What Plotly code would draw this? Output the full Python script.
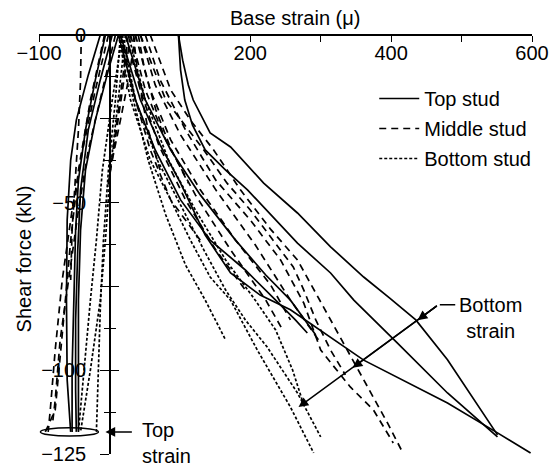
import plotly.graph_objects as go

FONT = "Liberation Sans, Arial, Helvetica, sans-serif"

# ---------------- data: base strain (micro-strain) vs shear force (kN) -------------
# Top stud (solid lines)
top1_x = [98, 104, 112, 119, 143, 172, 219, 267, 314, 361, 398, 435, 480, 527, 551]
top1_y = [0, -7.5, -14.9, -19.4, -29.2, -33.4, -44.2, -53.1, -63.2, -72.2, -78.5, -85, -96.9, -111.9, -119.3]
top2_x = [98, 101, 107, 118, 136, 165, 196, 229, 267, 314, 347, 409, 480, 551]
top2_y = [0, -10.4, -19.4, -26.9, -34.3, -40.3, -46.2, -53.7, -62.1, -71, -79.1, -91.9, -106.8, -119.9]
top3_x = [15.6, 44, 72, 101, 136, 172, 214, 257, 361, 480, 551, 598]
top3_y = [0, -19.4, -32.8, -44.2, -59.7, -71, -77.6, -82, -97, -109.8, -118.7, -124.7]
top4_x = [12.8, 37, 65, 101, 143, 193, 236, 264, 281]
top4_y = [0, -19.4, -34.3, -49.2, -61.2, -70.1, -79.1, -85, -88.9]
top5_x = [22.7, 51, 87, 129, 179, 222, 257, 293]
top5_y = [0, -19.4, -34.3, -47.7, -61.2, -71.6, -79.1, -89.5]
top6_x = [-5.7, -20, -34, -44, -48, -51, -53, -53]
top6_y = [0, -13.4, -28.3, -43.3, -58.2, -79.1, -99.9, -118.4]
top7_x = [4, -13, -30, -41, -45, -48, -48, -47]
top7_y = [0, -13.4, -28.3, -46.2, -64.1, -85, -105.9, -118.4]
top8_x = [-13, -30, -47, -55, -60, -61, -60, -55]
top8_y = [0, -11.9, -25.4, -37.3, -55.2, -79.1, -102.9, -118.4]
top9_x = [12.8, -1.4, -20, -34, -41, -44, -44, -44]
top9_y = [0, -10.4, -25.4, -40.3, -58.2, -79.1, -102.9, -118.4]

# Middle stud (dashed lines)
mid1_x = [58, 87, 115, 148, 186, 229, 267, 302, 332, 366, 395, 416]
mid1_y = [0, -16.4, -25.4, -34.3, -46.2, -58, -67.1, -80.5, -91.9, -105, -115.8, -124.4]
mid2_x = [51, 72, 108, 151, 200, 243, 276, 300, 342, 375, 403]
mid2_y = [0, -13.4, -28.3, -43.3, -55.2, -67.1, -80, -94, -105, -111.9, -121.7]
mid3_x = [44, 65, 101, 151, 207, 257, 297]
mid3_y = [0, -14.9, -29.8, -46.2, -62.6, -79.1, -91]
mid4_x = [37, 58, 87, 129, 179, 229, 257]
mid4_y = [0, -16.4, -31.3, -46.2, -61.2, -74.6, -85]
mid5_x = [30, 51, 80, 122, 172, 222, 246]
mid5_y = [0, -16.4, -31.3, -47.7, -64.1, -79.1, -88]
mid6_x = [22.7, 44, 70, 108, 151, 193]
mid6_y = [0, -16.4, -32.8, -49.2, -64.1, -76.1]
mid7_x = [15.6, 37, 58, 87, 129]
mid7_y = [0, -19.4, -34.3, -49.2, -61.2]
mid8_x = [44, 80, 134, 167, 200, 233, 261, 276, 293, 314, 335]
mid8_y = [0, -19.4, -34.3, -44.2, -52.2, -61.2, -69.2, -76.1, -85, -94, -101.4]
mid9_x = [27, 18.5, 8.5, 1.4]
mid9_y = [0, -13.4, -28.3, -40.3]
mid10_x = [37, 27, 15.6, 4]
mid10_y = [0, -13.4, -25.4, -37.3]
mid11_x = [34, 41, 55, 72]
mid11_y = [0, -13.4, -28.3, -40.3]
mid12_x = [-1.4, -20, -38, -53, -67, -77, -84, -87]
mid12_y = [0, -16.4, -34.3, -52.2, -73.1, -94, -111.9, -118.4]
mid13_x = [8.5, -10, -30, -44, -58, -70, -77, -81]
mid13_y = [0, -16.4, -34.3, -52.2, -73.1, -91, -108.9, -116.3]
mid14_x = [-40, -41, -44, -48, -53, -55]
mid14_y = [0, -13.4, -28.3, -43.3, -58.2, -73.1]
mid15_x = [-7, -27, -44, -55, -62.5, -70, -77, -91]
mid15_y = [0, -19.4, -40.3, -61.2, -79.1, -97, -111.9, -118.4]
mid16_x = [30, 23, 15, 6, -3]
mid16_y = [0, -10.4, -22.4, -34.3, -46.2]
mid17_x = [41, 50, 66, 88, 112]
mid17_y = [0, -10.4, -22.4, -34.3, -44.2]

# Bottom stud (dotted lines)
bot1_x = [12.8, 30, 58, 87, 115, 143, 172, 210, 257, 290]
bot1_y = [0, -19.4, -37.3, -49.2, -61.2, -72.2, -79.1, -94, -111, -124.7]
bot2_x = [18.5, 37, 68, 101, 134, 165, 193, 224, 267, 300]
bot2_y = [0, -19.4, -37.3, -50.7, -64.1, -76.1, -85, -93.1, -106.8, -119.9]
bot3_x = [27, 51, 84, 122, 165, 207, 236, 260, 276]
bot3_y = [0, -19.4, -37.3, -52.2, -67.1, -79.1, -88, -99.9, -110.4]
bot4_x = [15.6, 34, 55, 80, 108, 136, 165]
bot4_y = [0, -19.4, -37.3, -53.7, -68.6, -79.1, -91]
bot5_x = [15.6, 8.5, -1.4, -8.5, -13, -15.6, -18.5]
bot5_y = [0, -19.4, -40.3, -61.2, -82, -102.9, -118.4]
bot6_x = [22.7, 12.8, 1.4, -5.7, -13, -27, -41]
bot6_y = [0, -19.4, -40.3, -61.2, -79.1, -99.9, -118.4]
bot7_x = [18.5, 4, -10, -18.5, -27, -35.5, -44]
bot7_y = [0, -19.4, -40.3, -61.2, -79.1, -99.9, -118.4]

top_stud = [(top1_x, top1_y), (top2_x, top2_y), (top3_x, top3_y), (top4_x, top4_y),
            (top5_x, top5_y), (top6_x, top6_y), (top7_x, top7_y), (top8_x, top8_y),
            (top9_x, top9_y)]
mid_stud = [(mid1_x, mid1_y), (mid2_x, mid2_y), (mid3_x, mid3_y), (mid4_x, mid4_y),
            (mid5_x, mid5_y), (mid6_x, mid6_y), (mid7_x, mid7_y), (mid8_x, mid8_y),
            (mid9_x, mid9_y), (mid10_x, mid10_y), (mid11_x, mid11_y), (mid12_x, mid12_y),
            (mid13_x, mid13_y), (mid14_x, mid14_y), (mid15_x, mid15_y),
            (mid16_x, mid16_y), (mid17_x, mid17_y)]
bot_stud = [(bot1_x, bot1_y), (bot2_x, bot2_y), (bot3_x, bot3_y), (bot4_x, bot4_y),
            (bot5_x, bot5_y), (bot6_x, bot6_y), (bot7_x, bot7_y)]

x_tickvals = [-100, 0, 100, 200, 300, 400, 500, 600]
x_ticktext = ["\u2212100", "", "", "200", "", "400", "", "600"]
y_tickvals = [0, -25, -50, -75, -100, -125]
y_ticktext = ["0", "", "\u221250", "", "\u2212100", "\u2212125"]
y_minorvals = [-12.5, -37.5, -62.5, -87.5, -112.5]

# ---------------- figure -------------------------------------------------------------
fig = go.Figure()
groups = [("Top stud", top_stud, "solid"),
          ("Middle stud", mid_stud, "7px,5px"),
          ("Bottom stud", bot_stud, "3px,2px")]
for name, curves, dash in groups:
    for i, (xs, ys) in enumerate(curves):
        fig.add_trace(go.Scatter(
            x=xs, y=ys, mode="lines", name=name, legendgroup=name,
            showlegend=(i == 0),
            line=dict(color="black", width=1.7, dash=dash),
            hoverinfo="skip"))

# dummy trace so the overlaid axis (inner half of crossing ticks) is drawn
fig.add_trace(go.Scatter(x=[None], y=[None], yaxis="y2", showlegend=False, hoverinfo="skip"))

TXT = dict(size=20, color="black", family=FONT)

# Bottom strain arrows
tail = (467, -80.5)
heads = [(437.5, -85.1), (345.2, -99.3), (268.5, -111)]
annotations = []
for hx, hy in heads:
    annotations.append(dict(x=hx, y=hy, ax=tail[0], ay=tail[1], xref="x", yref="y",
                            axref="x", ayref="y", text="", showarrow=True,
                            arrowhead=2, arrowsize=1.3, arrowwidth=1.5, arrowcolor="black"))
annotations.append(dict(x=491, y=-80.5, ax=tail[0], ay=tail[1], xref="x", yref="y",
                        axref="x", ayref="y", text="", showarrow=True,
                        arrowhead=0, arrowwidth=1.5, arrowcolor="black"))
annotations.append(dict(x=541, y=-84.3, xref="x", yref="y", text="Bottom<br>strain",
                        showarrow=False, font=TXT, align="center"))
# Top strain arrow
annotations.append(dict(x=-5.7, y=-118.4, ax=34, ay=-118.4, xref="x", yref="y",
                        axref="x", ayref="y", text="", showarrow=True,
                        arrowhead=2, arrowsize=1.3, arrowwidth=1.5, arrowcolor="black"))
annotations.append(dict(x=44, y=-121.6, xref="x", yref="y", text="Top<br>strain",
                        showarrow=False, xanchor="left", align="left", font=TXT))
# axis titles
annotations.append(dict(x=-0.030, y=0.465, xref="paper", yref="paper", xanchor="center",
                        yanchor="middle",
                        text="Shear force (kN)", textangle=-90, showarrow=False, font=TXT))
annotations.append(dict(x=0.52, y=1.0, xref="paper", yref="paper", yanchor="bottom",
                        yshift=4, text="Base strain (\u03bc)", showarrow=False, font=TXT))

fig.update_layout(
    width=551, height=467,
    margin=dict(l=39, r=19, t=35, b=13, autoexpand=False),
    paper_bgcolor="white", plot_bgcolor="white",
    font=dict(family=FONT, size=20, color="black"),
    showlegend=True,
    legend=dict(x=0.68, y=0.895, xanchor="left", yanchor="top",
                bgcolor="rgba(0,0,0,0)", font=TXT,
                itemwidth=40, tracegroupgap=1),
    xaxis=dict(range=[-100, 600], side="bottom", anchor="free", position=1.0,
               showline=True, linecolor="black", automargin=False,
               linewidth=1.5, ticks="outside", ticklen=6, tickwidth=1.2, tickcolor="black",
               tickvals=x_tickvals, ticktext=x_ticktext, tickfont=TXT,
               ticklabelstandoff=-6,
               showgrid=False, zeroline=False),
    yaxis=dict(range=[-125, 0], anchor="free", position=0.144, showline=True,
               automargin=False,
               linecolor="black", linewidth=1.5, ticks="outside", ticklen=9,
               tickwidth=1.2, tickcolor="black", tickvals=y_tickvals, tickfont=TXT,
               ticktext=y_ticktext, ticklabelstandoff=10, showgrid=False, zeroline=False,
               minor=dict(tickvals=y_minorvals, ticks="outside", ticklen=5,
                          tickwidth=1.2, tickcolor="black")),
    yaxis2=dict(range=[-125, 0], overlaying="y", anchor="free", position=0.144,
                showline=False, ticks="inside", ticklen=8, tickwidth=1.2, automargin=False,
                tickcolor="black", tickvals=y_tickvals, showticklabels=False,
                showgrid=False, zeroline=False,
                minor=dict(tickvals=y_minorvals, ticks="inside", ticklen=5,
                           tickwidth=1.2, tickcolor="black")),
    annotations=annotations,
    shapes=[dict(type="circle", xref="x", yref="y", x0=-98, x1=-15.6, y0=-117.2, y1=-119.6,
                 line=dict(color="black", width=1.5))],
)

fig.write_html("out.html")
